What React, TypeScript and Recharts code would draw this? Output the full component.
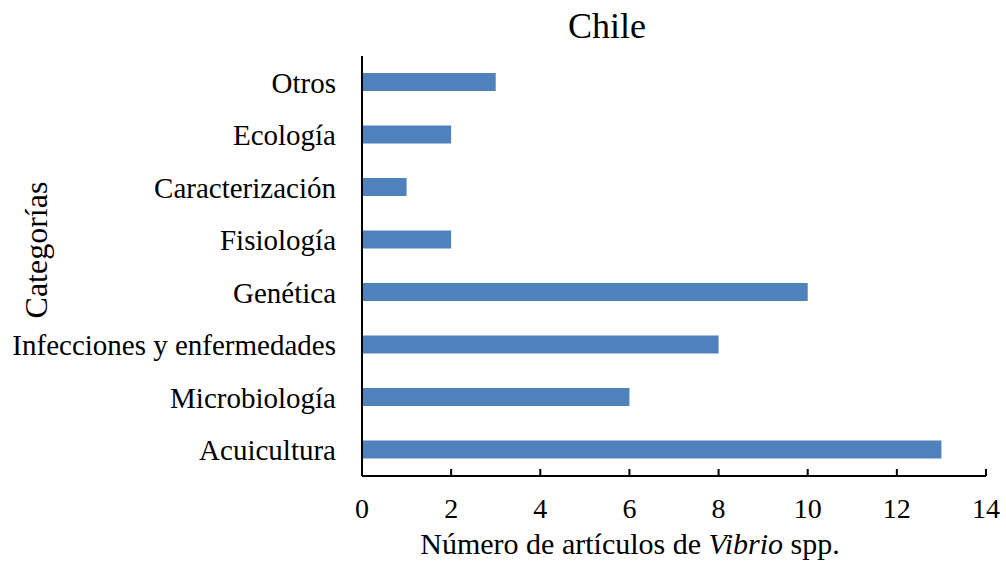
import { BarChart, Bar, XAxis, YAxis } from 'recharts'

const categories = [
  'Otros',
  'Ecología',
  'Caracterización',
  'Fisiología',
  'Genética',
  'Infecciones y enfermedades',
  'Microbiología',
  'Acuicultura',
]
const articles = [3, 2, 1, 2, 10, 8, 6, 13]
const xTicks = [0, 2, 4, 6, 8, 10, 12, 14]

const FONT = '"Liberation Serif", "Times New Roman", serif'
const BAR_COLOR = '#4f81bd'

const data = categories.map((name, i) => ({ name, value: articles[i] }))

// x ticks in the reference point inward (up), labels sit below the axis
function XTick(props: any) {
  const { x, y, payload } = props
  return (
    <g>
      <line x1={x} y1={y} x2={x} y2={y - 7} stroke="#000" strokeWidth={2} />
      <text x={x} y={y + 42} textAnchor="middle" fontFamily={FONT} fontSize={28} fill="#000">
        {payload.value}
      </text>
    </g>
  )
}

export default function App() {
  return (
    <div style={{ position: 'absolute', left: 0, top: 0, width: 1006, height: 567, background: '#fff' }}>
      <BarChart
        width={1006}
        height={567}
        data={data}
        layout="vertical"
        margin={{ top: 56, right: 20, bottom: 0, left: 0 }}
      >
        <XAxis
          type="number"
          domain={[0, 14]}
          ticks={xTicks}
          interval={0}
          height={91}
          tickSize={0}
          tickMargin={0}
          tickLine={false}
          tick={<XTick />}
          axisLine={{ stroke: '#000', strokeWidth: 2 }}
        />
        <YAxis
          type="category"
          dataKey="name"
          width={362}
          tickSize={0}
          tickMargin={26}
          tickLine={false}
          axisLine={{ stroke: '#000', strokeWidth: 2 }}
          tick={{ fontFamily: FONT, fontSize: 29, fill: '#000' }}
        />
        <Bar dataKey="value" fill={BAR_COLOR} barSize={18} isAnimationActive={false} />
      </BarChart>
      <svg
        width={1006}
        height={567}
        style={{ position: 'absolute', left: 0, top: 0, pointerEvents: 'none' }}
      >
        <text x={607} y={38} textAnchor="middle" fontFamily={FONT} fontSize={36} fill="#000">
          Chile
        </text>
        <text x={630} y={554} textAnchor="middle" fontFamily={FONT} fontSize={30} fill="#000">
          Número de artículos de <tspan fontStyle="italic">Vibrio</tspan> spp.
        </text>
        <text
          x={0}
          y={0}
          transform="translate(47,250) rotate(-90)"
          textAnchor="middle"
          fontFamily={FONT}
          fontSize={32}
          fill="#000"
        >
          Categorías
        </text>
      </svg>
    </div>
  )
}
